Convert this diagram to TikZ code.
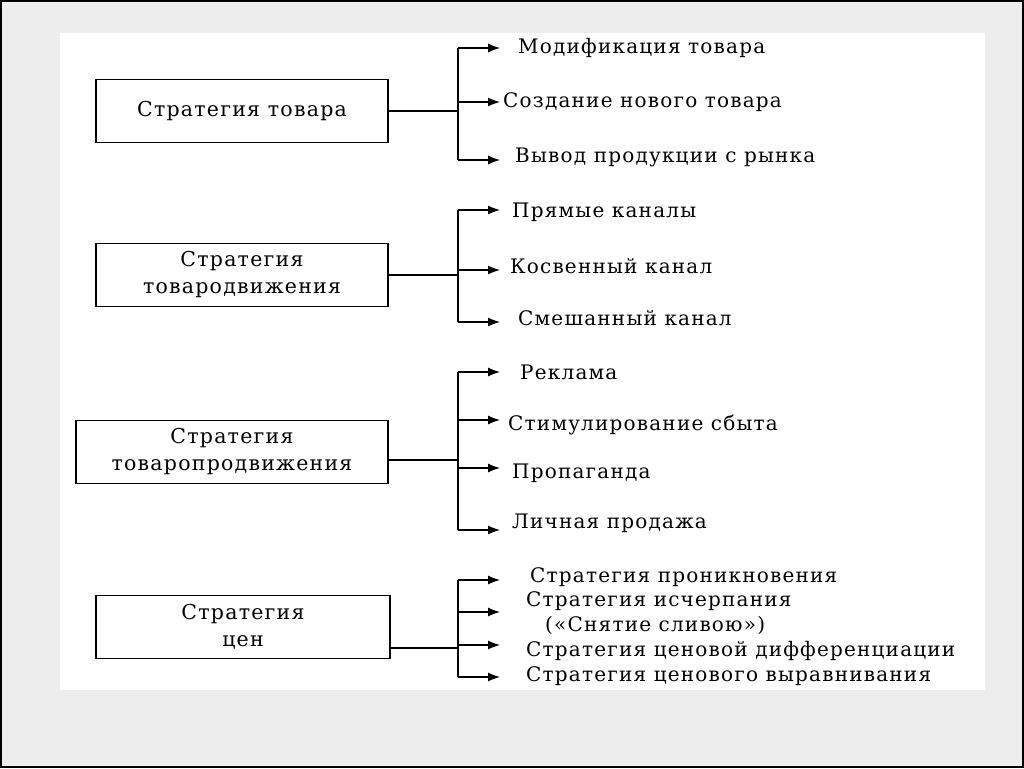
\documentclass[tikz,border=0pt]{standalone}
\usepackage{fontspec}
\setmainfont{DejaVu Serif}[LetterSpace=6]
\usetikzlibrary{arrows.meta}
\tikzset{
  strat/.style={draw, line width=1.2pt, minimum height=63pt, align=center, font=\fontsize{20.5}{27}\selectfont},
  item/.style={anchor=west, font=\fontsize{20}{22}\selectfont, inner sep=0pt},
  link/.style={line width=1.2pt},
  tip/.style={line width=1.2pt, -{Latex[length=12pt,width=9pt]}}
}
\begin{document}
\begin{tikzpicture}[x=1pt,y=-1pt]
    \useasboundingbox (0,0) rectangle (1024,768);
    % frame
    \fill[gray!14] (0,0) rectangle (1024,768);
    \fill[white] (60,33) rectangle (985,690);
    \draw[line width=2pt] (1,1) rectangle (1023,767);

    % Strategy boxes
    \node[strat, minimum width=292pt] (tov) at (242,111) {Стратегия товара};
    \node[strat, minimum width=292pt] (dv) at (242,275) {Стратегия\\товародвижения};
    \node[strat, minimum width=312pt] (pr) at (232,452) {Стратегия\\товаропродвижения};
    \node[strat, minimum width=294pt] (cen) at (243,627) {Стратегия\\цен};

    % Branches of the first box
    \coordinate (t1) at (458,48);
    \coordinate (t2) at (458,102);
    \coordinate (t3) at (458,160);
    \draw[link] (tov.east) -- (458,111);
    \draw[link] (t1) -- (t3);
    \foreach \c in {t1,t2,t3} \draw[tip] (\c) -- ++(42,0);
    \node[item] (m1) at (518,48) {Модификация товара};
    \node[item] (m2) at (503,102) {Создание нового товара};
    \node[item] (m3) at (515,157) {Вывод продукции с рынка};

    % Branches of the second box
    \coordinate (d1) at (458,210);
    \coordinate (d2) at (458,270);
    \coordinate (d3) at (458,322);
    \draw[link] (dv.east) -- (458,275);
    \draw[link] (d1) -- (d3);
    \foreach \c in {d1,d2,d3} \draw[tip] (\c) -- ++(42,0);
    \node[item] (k1) at (512,212) {Прямые каналы};
    \node[item] (k2) at (510,266) {Косвенный канал};
    \node[item] (k3) at (518,318) {Смешанный канал};

    % Branches of the third box
    \coordinate (p1) at (458,372);
    \coordinate (p2) at (458,420);
    \coordinate (p3) at (458,468);
    \coordinate (p4) at (458,530);
    \draw[link] (pr.east |- 0,460) -- (458,460);
    \draw[link] (p1) -- (p4);
    \foreach \c in {p1,p2,p3,p4} \draw[tip] (\c) -- ++(42,0);
    \node[item] (r1) at (520,372) {Реклама};
    \node[item] (r2) at (508,425) {Стимулирование сбыта};
    \node[item] (r3) at (512,473) {Пропаганда};
    \node[item] (r4) at (512,523) {Личная продажа};

    % Branches of the fourth box
    \coordinate (c1) at (458,580);
    \coordinate (c2) at (458,612);
    \coordinate (c3) at (458,645);
    \coordinate (c4) at (458,677);
    \draw[link] (cen.east |- 0,648) -- (458,648);
    \draw[link] (c1) -- (c4);
    \foreach \c in {c1,c2,c3,c4} \draw[tip] (\c) -- ++(42,0);
    \node[item] (s1) at (530,577) {Стратегия проникновения};
    \node[item] (s2) at (526,601) {Стратегия исчерпания};
    \node[item] (s2b) at (545,625) {(«Снятие сливою»)};
    \node[item] (s3) at (526,651) {Стратегия ценовой дифференциации};
    \node[item] (s4) at (526,676) {Стратегия ценового выравнивания};
\end{tikzpicture}
\end{document}
